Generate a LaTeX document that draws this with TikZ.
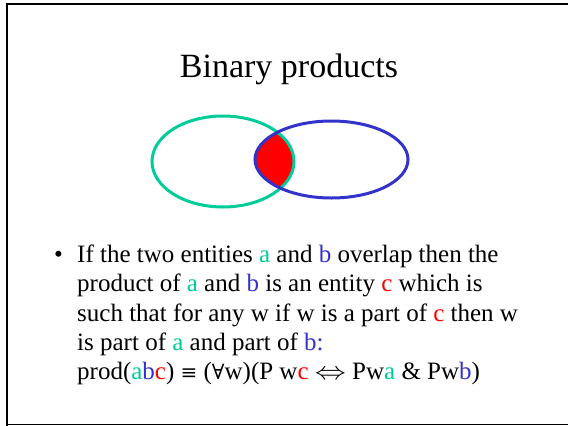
\documentclass[tikz,border=0pt]{standalone}
\usepackage{fontspec}
\usepackage{graphicx}
\setmainfont{Liberation Serif}
\newfontfamily\symfont{DejaVu Serif}
\definecolor{ca}{RGB}{0,204,153}
\definecolor{cb}{RGB}{51,51,204}
\definecolor{cc}{RGB}{255,0,0}
\newcommand{\A}{\textcolor{ca}{a}}
\newcommand{\B}{\textcolor{cb}{b}}
\newcommand{\C}{\textcolor{cc}{c}}
\begin{document}
\begin{tikzpicture}[x=1pt,y=-1pt,
  line/.style={anchor=base west,inner sep=0pt,font=\fontsize{25}{28}\selectfont}]
\useasboundingbox (0,0) rectangle (568,426);
\draw[line width=1.5pt] (7,426) -- (7,4) -- (568,4);
\draw[line width=1.5pt] (7,424.5) -- (568,424.5);
\node[anchor=base,inner sep=0pt,font=\fontsize{34}{40}\selectfont] (title) at (289,77) {Binary products};
% red intersection
\begin{scope}
  \clip (223,161.5) ellipse [x radius=71, y radius=45.5];
  \fill[red] (331.5,159.5) ellipse [x radius=76.5, y radius=38.5];
  \draw[black,line width=0.8pt] (331.5,159.5) ellipse [x radius=76.5, y radius=38.5];
\end{scope}
\begin{scope}
  \clip (331.5,159.5) ellipse [x radius=76.5, y radius=38.5];
  \draw[black,line width=0.8pt] (223,161.5) ellipse [x radius=71, y radius=45.5];
\end{scope}
\draw[ca,line width=3pt] (223,161.5) ellipse [x radius=71, y radius=45.5];
\draw[cb,line width=3pt] (331.5,159.5) ellipse [x radius=76.5, y radius=38.5];
\node[line] (bullet) at (54,262) {\textbullet};
\node[line] (l1) at (77,262) {If the two entities \A{} and \B{} overlap then the};
\node[line] (l2) at (77,291.5) {product of \A{} and \B{} is an entity \C{} which is};
\node[line] (l3) at (77,321) {such that for any w if w is a part of \C{} then w};
\node[line] (l4) at (77,350) {is part of \A{} and part of \textcolor{cb}{b:}};
\node[line] (l5) at (77,379) {prod(\A\B\C) {\symfont\fontsize{20}{24}\selectfont ≡} ({\symfont\fontsize{21}{24}\selectfont ∀}w)(P w\C{} \scalebox{1.25}[1]{$\Leftrightarrow$} Pw\A{} \& Pw\B)};
\end{tikzpicture}
\end{document}
